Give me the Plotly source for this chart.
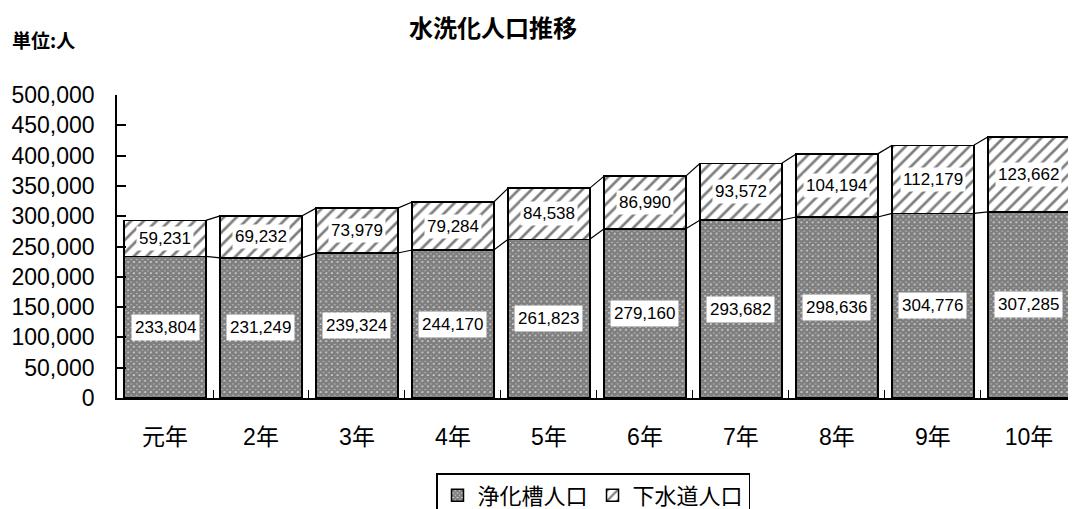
import plotly.graph_objects as go

categories = ["元年", "2年", "3年", "4年", "5年", "6年", "7年", "8年", "9年", "10年"]
septic = [233804, 231249, 239324, 244170, 261823, 279160, 293682, 298636, 304776, 307285]
sewer = [59231, 69232, 73979, 79284, 84538, 86990, 93572, 104194, 112179, 123662]
y_ticks = [0, 50000, 100000, 150000, 200000, 250000, 300000, 350000, 400000, 450000, 500000]
series_names = ["浄化槽人口", "下水道人口"]

FONT = "Liberation Sans, Noto Sans CJK JP, sans-serif"
xs = list(range(len(categories)))
BW = 0.85
W, H = 1068, 501   # page adds an 8px body margin

fig = go.Figure()
fig.add_trace(go.Bar(
    x=xs, y=septic, name=series_names[0], width=BW,
    marker=dict(color="white", line=dict(color="black", width=1.5),
                pattern=dict(shape="x", fgcolor="black", bgcolor="white", size=4, solidity=0.9)),
))
fig.add_trace(go.Bar(
    x=xs, y=sewer, name=series_names[1], width=BW,
    marker=dict(color="white", line=dict(color="black", width=1.5),
                pattern=dict(shape="/", fgcolor="black", bgcolor="white", size=9, solidity=0.3)),
))

totals = [a + b for a, b in zip(septic, sewer)]
for level in (septic, totals):
    lx, ly = [], []
    for i in range(len(xs) - 1):
        lx += [xs[i] + BW / 2, xs[i + 1] - BW / 2, None]
        ly += [level[i], level[i + 1], None]
    fig.add_trace(go.Scatter(x=lx, y=ly, mode="lines", line=dict(color="black", width=1.2),
                             showlegend=False, hoverinfo="skip"))

for i in xs:
    fig.add_annotation(x=xs[i], y=septic[i] / 2, text=f"{septic[i]:,}", showarrow=False,
                       bgcolor="white", font=dict(family=FONT, size=17, color="black"), borderpad=3)
    fig.add_annotation(x=xs[i], y=septic[i] + sewer[i] / 2, text=f"{sewer[i]:,}", showarrow=False,
                       bgcolor="white", font=dict(family=FONT, size=17, color="black"), borderpad=2)

fig.add_annotation(xref="paper", yref="paper", x=(10 - 117) / 959, y=(398 - 40) / 303,
                   xanchor="left", yanchor="middle",
                   text="<b>単位:人</b>", showarrow=False,
                   font=dict(family="Noto Sans CJK JP", size=19, color="black"))

fig.add_annotation(xref="paper", yref="paper", x=(485 - 109) / 959, y=(390 - 18) / 303,
                   xanchor="center", yanchor="middle",
                   text="<b>水洗化人口推移</b>", showarrow=False,
                   font=dict(family="Noto Sans CJK JP", size=24, color="black"))

fig.update_layout(
    width=W, height=H,
    margin=dict(l=109, r=0, t=87, b=H - 390, autoexpand=False),
    paper_bgcolor="white", plot_bgcolor="white",
    barmode="stack",
    font=dict(family=FONT, color="black"),
    showlegend=True,
    legend=dict(orientation="h", xref="container", yref="container", x=585 / W, xanchor="center",
                y=1 - 465 / H, yanchor="top", bordercolor="black", borderwidth=1.5,
                font=dict(family="Noto Sans CJK JP", size=22, color="black"),
                traceorder="normal", itemwidth=30, tracegroupgap=0, bgcolor="white"),
    xaxis=dict(range=[-0.5, 9.49], tickvals=xs, ticktext=categories, ticks="", showline=True,
               linecolor="black", linewidth=1.5, showgrid=False, zeroline=False, automargin=False,
               tickfont=dict(family=FONT, size=23, color="black"), ticklabelstandoff=18,
               minor=dict(tickvals=[i + 0.5 for i in xs[:-1]], ticks="inside", ticklen=8,
                          tickcolor="black", tickwidth=1.2, showgrid=False)),
    yaxis=dict(range=[0, 500000], tickvals=y_ticks, tickformat=",d", ticks="inside", ticklen=9,
               tickcolor="black", tickwidth=1.5, showline=True, linecolor="black", linewidth=1.5,
               showgrid=False, zeroline=False, ticklabelstandoff=16, automargin=False,
               tickfont=dict(family=FONT, size=23, color="black")),
)

fig.write_html("out.html")
